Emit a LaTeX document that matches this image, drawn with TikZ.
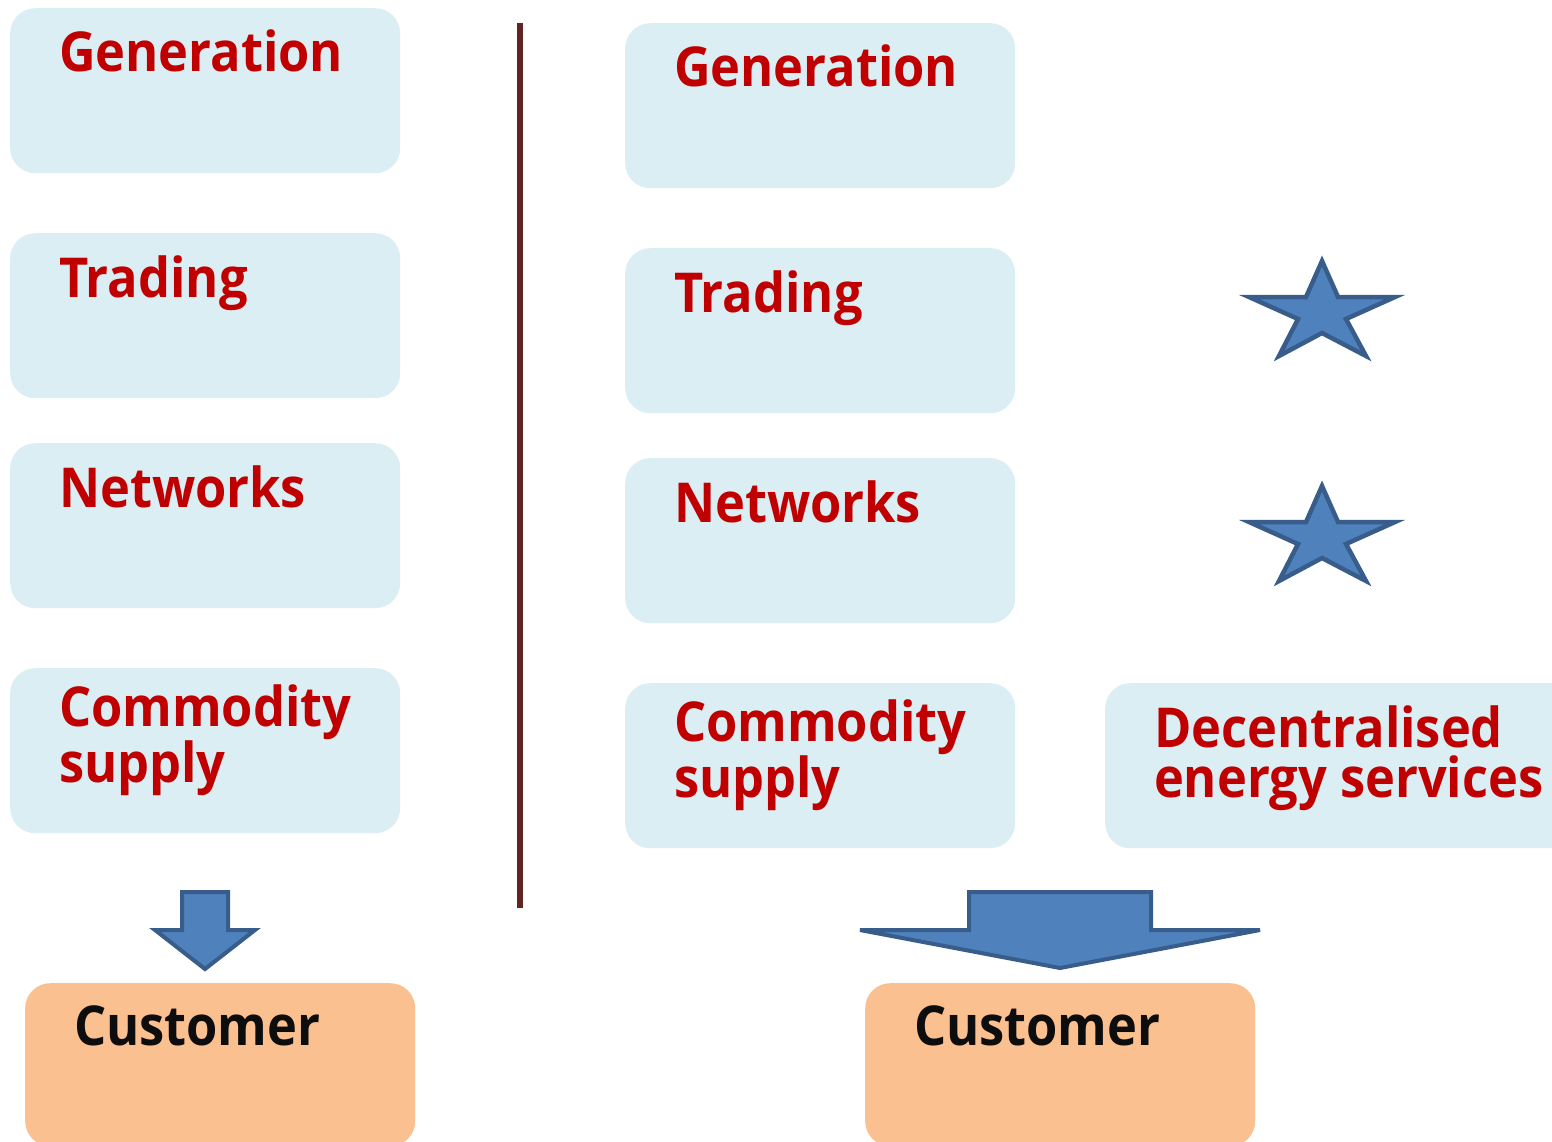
\documentclass[tikz,border=0pt]{standalone}
\usepackage{fontspec}
\setmainfont{Open Sans}[FakeStretch=0.92]
\definecolor{boxblue}{HTML}{DBEEF4}
\definecolor{custorange}{HTML}{FAC090}
\definecolor{txtred}{HTML}{C00000}
\definecolor{txtblack}{HTML}{0D0D0D}
\definecolor{arrowblue}{HTML}{4F81BD}
\definecolor{arrowedge}{HTML}{385D8A}
\definecolor{linebrown}{HTML}{632523}
\begin{document}
\begin{tikzpicture}[x=1pt,y=-1pt,
  box/.style={fill=boxblue, draw=none, rounded corners=25pt, minimum width=390pt, minimum height=165pt, anchor=north west, inner sep=0},
  cust/.style={fill=custorange, draw=none, rounded corners=25pt, minimum width=390pt, minimum height=163pt, anchor=north west, inner sep=0},
  lbl/.style={anchor=base west, inner sep=0, outer sep=0, text=txtred, font=\fontsize{55}{49.5}\selectfont\bfseries, align=left},
  clbl/.style={lbl, text=txtblack},
  blockarrow/.style={fill=arrowblue, draw=arrowedge, line width=4pt, line join=miter},
  starshape/.style={fill=arrowblue, draw=arrowedge, line width=4.5pt, line join=miter}]
\useasboundingbox (0,0) rectangle (1552,1142);
\clip (0,0) rectangle (1552,1142);
% left column
\node[box] (lgen) at (10,8) {};
\node[lbl] (lgent) at (59,72) {Generation};
\node[box] (ltrd) at (10,233) {};
\node[lbl] (ltrdt) at (59,297) {Trading};
\node[box] (lnet) at (10,443) {};
\node[lbl] (lnett) at (59,507) {Networks};
\node[box] (lcom) at (10,668) {};
\node[lbl] (lcomt) at (59,782) {Commodity\\supply};
% right column
\node[box] (rgen) at (625,23) {};
\node[lbl] (rgent) at (674,87) {Generation};
\node[box] (rtrd) at (625,248) {};
\node[lbl] (rtrdt) at (674,312) {Trading};
\node[box] (rnet) at (625,458) {};
\node[lbl] (rnett) at (674,522) {Networks};
\node[box] (rcom) at (625,683) {};
\node[lbl] (rcomt) at (674,797) {Commodity\\supply};
\node[box, minimum width=480pt] (rdec) at (1105,683) {};
\node[lbl] (rdect) at (1154,797) {Decentralised\\energy services};
% customers
\node[cust] (lcust) at (25,983) {};
\node[clbl] (lcustt) at (74,1045) {Customer};
\node[cust] (rcust) at (865,983) {};
\node[clbl] (rcustt) at (914,1045) {Customer};
% divider
\draw[line width=6pt, color=linebrown] (520,23) -- (520,908);
% block arrows
\draw[blockarrow] (182,892) -- (228,892) -- (228,930) -- (255,930) -- (205,969) -- (155,930) -- (182,930) -- cycle;
\draw[blockarrow] (969,892) -- (1151,892) -- (1151,930) -- (1260,930) -- (1060,968) -- (860,930) -- (969,930) -- cycle;
% stars
\foreach \dy in {0,225}{
  \begin{scope}[yshift=-\dy pt]
  \draw[starshape] (1322,261) -- (1338,297) -- (1395,297) -- (1346,319) -- (1366,356) -- (1322,333) -- (1279,356) -- (1298,319) -- (1249,297) -- (1306,297) -- cycle;
  \end{scope}
}
\end{tikzpicture}
\end{document}
